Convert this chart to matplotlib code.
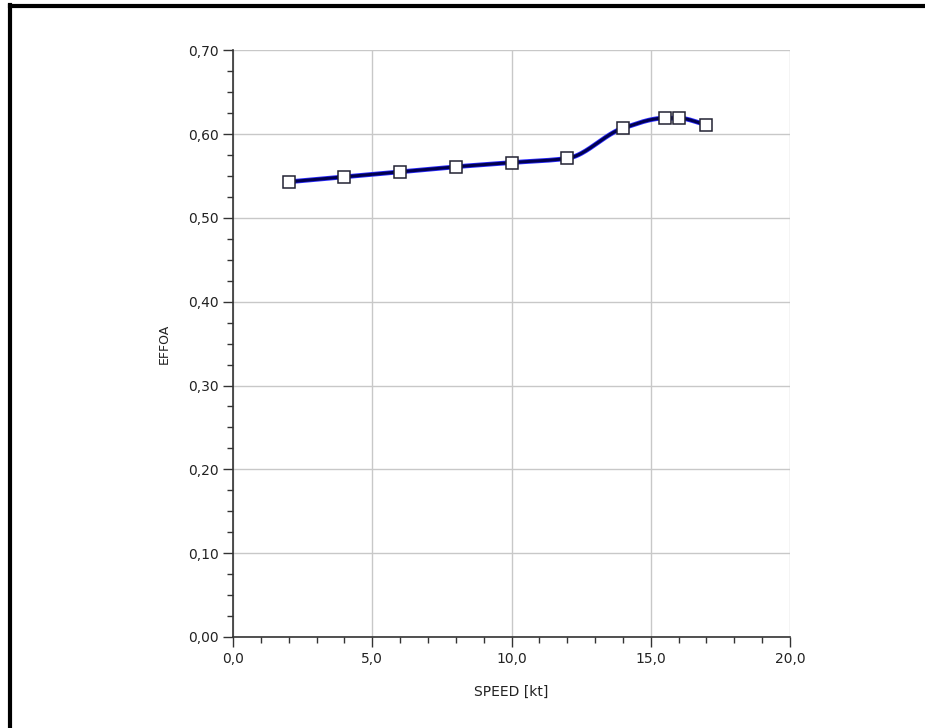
import numpy as np
import matplotlib.pyplot as plt
from matplotlib.ticker import MultipleLocator, FuncFormatter
from matplotlib.lines import Line2D

# speed [kt] and EFFOA values
speed = [2.0, 4.0, 6.0, 8.0, 10.0, 12.0, 14.0, 15.5, 16.0, 17.0]
effoa = [0.543, 0.549, 0.555, 0.561, 0.566, 0.571, 0.607, 0.619, 0.619, 0.611]


def pchip(x, y, n=40):
    # monotone cubic hermite curve through the points (for drawing only)
    x = np.asarray(x, float)
    y = np.asarray(y, float)
    h = np.diff(x)
    d = np.diff(y) / h
    m = np.zeros_like(y)
    for k in range(1, len(x) - 1):
        if d[k - 1] * d[k] <= 0:
            m[k] = 0.0
        else:
            w1 = 2 * h[k] + h[k - 1]
            w2 = h[k] + 2 * h[k - 1]
            m[k] = (w1 + w2) / (w1 / d[k - 1] + w2 / d[k])
    m[0] = d[0]
    m[-1] = d[-1]
    xs, ys = [], []
    for k in range(len(x) - 1):
        t = np.linspace(0, 1, n)
        h00 = 2 * t ** 3 - 3 * t ** 2 + 1
        h10 = t ** 3 - 2 * t ** 2 + t
        h01 = -2 * t ** 3 + 3 * t ** 2
        h11 = t ** 3 - t ** 2
        xs.extend(x[k] + t * h[k])
        ys.extend(h00 * y[k] + h10 * h[k] * m[k] + h01 * y[k + 1] + h11 * h[k] * m[k + 1])
    return np.array(xs), np.array(ys)


fig = plt.figure(figsize=(9.25, 7.28), dpi=100)
ax = fig.add_axes([0.252, 0.125, 0.602, 0.806])

cx, cy = pchip(speed, effoa)
ax.plot(cx, cy, color="#2a2aff", lw=3.4, solid_capstyle="round", zorder=3)
ax.plot(cx, cy, color="#000050", lw=2.2, solid_capstyle="round", zorder=3)
ax.plot(speed, effoa, ls="none", marker="s", ms=8, mfc="white", mec="#222233",
        mew=1.1, zorder=4)

ax.set_xlim(0, 20)
ax.set_ylim(0, 0.70)
ax.xaxis.set_major_locator(MultipleLocator(5))
ax.xaxis.set_minor_locator(MultipleLocator(1))
ax.yaxis.set_major_locator(MultipleLocator(0.1))
ax.yaxis.set_minor_locator(MultipleLocator(0.025))
ax.xaxis.set_major_formatter(FuncFormatter(lambda v, p: f"{v:.1f}".replace(".", ",")))
ax.yaxis.set_major_formatter(FuncFormatter(lambda v, p: f"{v:.2f}".replace(".", ",")))

ax.grid(True, which="major", color="#c8c8c8", lw=1)
ax.set_axisbelow(True)
for s in ["top", "right"]:
    ax.spines[s].set_visible(False)
for s in ["left", "bottom"]:
    ax.spines[s].set_color("#333333")
    ax.spines[s].set_linewidth(1.2)
ax.tick_params(which="major", length=7, width=1, color="#333333", labelsize=10,
               labelcolor="#222222")
ax.tick_params(which="minor", length=4, width=1, color="#333333")

ax.set_xlabel("SPEED [kt]", fontsize=10, color="#222222", labelpad=14)
ax.set_ylabel("EFFOA", fontsize=9, color="#222222", labelpad=12)

# outer frame of the exported panel
fig.add_artist(Line2D([10 / 925, 10 / 925], [0, 1 - 5 / 728], color="black", lw=3,
                      transform=fig.transFigure))
fig.add_artist(Line2D([10 / 925, 1], [1 - 6 / 728, 1 - 6 / 728], color="black", lw=3,
                      transform=fig.transFigure))

fig.savefig("out.png", dpi=100)
